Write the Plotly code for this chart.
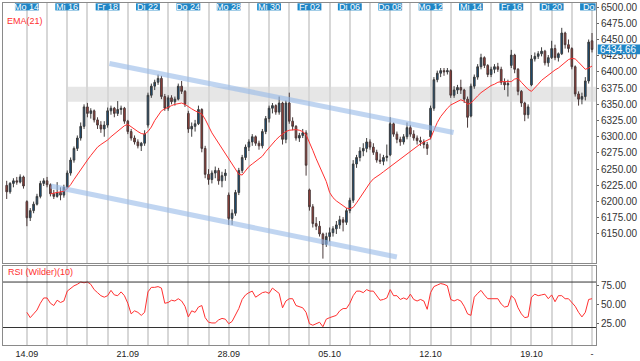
import plotly.graph_objects as go

# ---------------- data ----------------
BARS_PER_DAY = 6
FIRST_DAY = -1  # Fr 11.09 (day 0 = Mo 14.09)

opens = [
    6225, 6215, 6228, 6232, 6230, 6238,
    6200, 6175, 6186, 6196, 6208, 6228,
    6232, 6226, 6212, 6208, 6214, 6210,
    6222, 6244, 6264, 6282, 6298, 6316,
    6346, 6336, 6340, 6326, 6318, 6312,
    6318, 6340, 6344, 6336, 6342, 6344,
    6324, 6308, 6298, 6292, 6286, 6290,
    6318, 6364, 6378, 6384, 6390, 6362,
    6344, 6360, 6354, 6358, 6378, 6370,
    6336, 6312, 6316, 6320, 6342, 6282,
    6242, 6234, 6244, 6248, 6232, 6240,
    6210, 6174, 6182, 6214, 6248, 6268,
    6284, 6292, 6300, 6290, 6286, 6308,
    6328, 6344, 6348, 6338, 6352, 6296,
    6352, 6324, 6316, 6298, 6302, 6306,
    6218, 6192, 6166, 6162, 6150, 6134,
    6146, 6152, 6158, 6164, 6172, 6168,
    6186, 6202, 6258, 6268, 6278, 6282,
    6292, 6284, 6276, 6264, 6262, 6268,
    6272, 6320, 6304, 6296, 6292, 6300,
    6314, 6304, 6298, 6294, 6292, 6288,
    6300, 6344, 6388, 6398, 6402, 6400,
    6402, 6364, 6372, 6376, 6372, 6358,
    6332, 6378, 6392, 6408, 6422, 6410,
    6396, 6404, 6408, 6404, 6384, 6380,
    6410, 6426, 6404, 6370, 6352, 6334,
    6380, 6420, 6424, 6428, 6432, 6414,
    6422, 6436, 6422, 6428, 6460, 6442,
    6436, 6408, 6366, 6358, 6362, 6386,
    6448,
]
highs = [
    6232, 6230, 6236, 6238, 6242, 6240,
    6202, 6190, 6200, 6212, 6232, 6236,
    6238, 6228, 6218, 6230, 6222, 6226,
    6248, 6268, 6285, 6302, 6322, 6350,
    6352, 6344, 6342, 6330, 6324, 6324,
    6345, 6348, 6346, 6355, 6348, 6346,
    6326, 6312, 6302, 6296, 6292, 6310,
    6368, 6382, 6388, 6396, 6394, 6366,
    6364, 6364, 6362, 6382, 6386, 6372,
    6340, 6322, 6326, 6348, 6344, 6286,
    6250, 6248, 6254, 6252, 6246, 6250,
    6214, 6188, 6218, 6252, 6272, 6288,
    6296, 6304, 6302, 6294, 6312, 6332,
    6348, 6352, 6350, 6362, 6354, 6356,
    6368, 6330, 6318, 6306, 6312, 6310,
    6220, 6196, 6176, 6170, 6152, 6152,
    6160, 6162, 6170, 6178, 6176, 6190,
    6206, 6264, 6272, 6284, 6290, 6298,
    6296, 6290, 6280, 6274, 6272, 6288,
    6330, 6322, 6308, 6300, 6304, 6322,
    6318, 6310, 6302, 6300, 6296, 6292,
    6348, 6392, 6402, 6406, 6406, 6406,
    6404, 6378, 6380, 6388, 6374, 6362,
    6382, 6396, 6412, 6428, 6424, 6412,
    6408, 6412, 6414, 6408, 6390, 6388,
    6434, 6428, 6406, 6372, 6354, 6350,
    6426, 6430, 6432, 6438, 6434, 6426,
    6448, 6442, 6430, 6468, 6462, 6450,
    6438, 6410, 6370, 6368, 6392, 6450,
    6460,
]
lows = [
    6204, 6212, 6222, 6226, 6228, 6220,
    6162, 6170, 6182, 6194, 6205, 6224,
    6222, 6208, 6204, 6206, 6202, 6206,
    6220, 6240, 6260, 6278, 6294, 6312,
    6330, 6328, 6322, 6312, 6306, 6300,
    6314, 6334, 6330, 6332, 6334, 6320,
    6304, 6294, 6288, 6282, 6278, 6286,
    6314, 6360, 6372, 6380, 6358, 6340,
    6340, 6350, 6348, 6356, 6366, 6346,
    6306, 6300, 6308, 6318, 6276, 6236,
    6226, 6228, 6236, 6226, 6222, 6232,
    6164, 6164, 6178, 6210, 6244, 6264,
    6278, 6286, 6286, 6280, 6282, 6304,
    6322, 6336, 6334, 6334, 6288, 6290,
    6320, 6310, 6294, 6292, 6298, 6240,
    6186, 6160, 6156, 6146, 6112, 6130,
    6138, 6146, 6150, 6158, 6154, 6164,
    6182, 6198, 6252, 6262, 6270, 6276,
    6280, 6272, 6260, 6258, 6256, 6262,
    6270, 6300, 6290, 6286, 6288, 6296,
    6300, 6294, 6288, 6286, 6282, 6272,
    6296, 6340, 6384, 6392, 6394, 6396,
    6360, 6360, 6366, 6366, 6352, 6314,
    6330, 6374, 6388, 6404, 6406, 6392,
    6392, 6398, 6400, 6380, 6372, 6362,
    6406, 6398, 6364, 6346, 6324, 6328,
    6378, 6416, 6420, 6424, 6410, 6408,
    6420, 6418, 6416, 6426, 6436, 6430,
    6404, 6362, 6348, 6350, 6356, 6382,
    6430,
]
closes = [
    6215, 6228, 6232, 6230, 6238, 6224,
    6175, 6186, 6196, 6208, 6228, 6232,
    6226, 6212, 6208, 6214, 6210, 6222,
    6244, 6264, 6282, 6298, 6316, 6346,
    6336, 6340, 6326, 6318, 6312, 6318,
    6340, 6344, 6336, 6342, 6344, 6324,
    6308, 6298, 6292, 6286, 6290, 6304,
    6364, 6378, 6384, 6390, 6362, 6344,
    6360, 6354, 6358, 6378, 6370, 6350,
    6312, 6316, 6320, 6342, 6282, 6242,
    6234, 6244, 6248, 6232, 6240, 6244,
    6174, 6182, 6214, 6248, 6268, 6284,
    6292, 6300, 6290, 6286, 6308, 6328,
    6344, 6348, 6338, 6352, 6296, 6352,
    6324, 6316, 6298, 6302, 6306, 6256,
    6192, 6166, 6162, 6150, 6134, 6146,
    6152, 6158, 6164, 6172, 6168, 6186,
    6202, 6258, 6268, 6278, 6282, 6292,
    6284, 6276, 6264, 6262, 6268, 6270,
    6320, 6304, 6296, 6292, 6300, 6314,
    6304, 6298, 6294, 6292, 6288, 6282,
    6344, 6388, 6398, 6402, 6400, 6402,
    6364, 6372, 6376, 6372, 6358, 6330,
    6378, 6392, 6408, 6422, 6410, 6396,
    6404, 6408, 6404, 6384, 6380, 6382,
    6426, 6404, 6370, 6352, 6334, 6346,
    6420, 6424, 6428, 6432, 6414, 6422,
    6436, 6422, 6428, 6460, 6442, 6436,
    6408, 6366, 6358, 6362, 6386, 6446,
    6434.66,
]
ema21 = [
    None, None, None, None, None, None,
    None, None, None, None, None, None,
    None, 6212, 6213, 6214, 6215, 6216,
    6220, 6226, 6234, 6242, 6250, 6257,
    6264, 6271, 6278, 6284, 6288, 6291,
    6295, 6300, 6304, 6308, 6313, 6317,
    6319, 6315, 6311, 6308, 6305, 6304,
    6308, 6315, 6325, 6333, 6340, 6343,
    6346, 6348, 6350, 6351, 6352, 6350,
    6346, 6343, 6340, 6338, 6335, 6327,
    6316, 6306, 6298, 6290, 6283, 6275,
    6267, 6258, 6249, 6242, 6241, 6247,
    6254, 6258, 6262, 6266, 6270, 6277,
    6283, 6290, 6295, 6300, 6304, 6308,
    6310, 6311, 6311, 6310, 6308, 6303,
    6292, 6279, 6266, 6255, 6243, 6231,
    6214, 6206, 6201, 6197, 6193, 6190,
    6189, 6191, 6198, 6206, 6214, 6222,
    6229, 6235, 6238, 6242, 6246, 6250,
    6254, 6258, 6262, 6266, 6270, 6273,
    6277, 6281, 6285, 6289, 6292, 6294,
    6297, 6310, 6322, 6331, 6338, 6344,
    6349, 6352, 6355, 6357, 6355, 6350,
    6352, 6358, 6363, 6368, 6372, 6376,
    6379, 6381, 6384, 6385, 6385, 6385,
    6385, 6389, 6390, 6384, 6378, 6373,
    6370, 6375, 6381, 6387, 6391, 6396,
    6400, 6403, 6406, 6410, 6415, 6419,
    6421, 6420, 6415, 6409, 6404, 6406,
    6409,
]
rsi10 = [
    None, None, None, None, None, None,
    40, 33, 38, 43, 52, 59,
    59, 52, 49, 56, 53, 55,
    68, 72, 75, 77, 80, 79,
    80, 77, 70, 66, 62, 60,
    62, 69, 63, 62, 67, 62,
    52, 38, 42, 40, 36, 40,
    67, 73, 73, 74, 72, 52,
    53, 56, 55, 58, 55, 48,
    34, 42, 40, 47, 49, 33,
    27, 26, 26, 30, 32, 31,
    25, 28, 36, 45, 57, 63,
    66, 68, 60, 63, 66, 67,
    65, 72, 69, 65, 46, 55,
    58, 58, 49, 47, 46, 40,
    25, 23, 25, 27, 21, 31,
    33, 35, 36, 42, 45, 45,
    52, 62, 68, 68, 66, 70,
    68, 68, 62, 56, 57, 59,
    70, 62, 62, 57, 59, 57,
    64, 57, 55, 57, 55, 44,
    66, 74, 76, 78, 77, 75,
    57, 55, 57, 55, 48, 38,
    36, 60, 65, 69, 63, 58,
    58, 58, 58, 51, 47, 48,
    62, 58, 46, 38, 33, 34,
    60, 64, 62, 63, 64, 58,
    63, 54, 62, 62, 58, 58,
    53, 48, 40, 34, 40, 57,
    58,
]

top_label_days = [0, 2, 4, 6, 8, 10, 12, 14, 16, 18, 20, 22, 24, 26]
top_label_text = ["Mo 14", "Mi 16", "Fr 18", "Di 22", "Do 24", "Mo 28", "Mi 30",
                  "Fr 02", "Di 06", "Do 08", "Mo 12", "Mi 14", "Fr 16", "Di 20"]
last_label_day = 28
last_label_text = "Do"
date_tick_days = [0, 5, 10, 15, 20, 25, 28]
date_tick_text = ["14.09", "21.09", "28.09", "05.10", "12.10", "19.10", "-"]
price_ticks = [6150, 6175, 6200, 6225, 6250, 6275, 6300, 6325, 6350, 6375,
               6400, 6425, 6450, 6475, 6500]
rsi_ticks = [25, 50, 75]
rsi_levels = [80, 20]
last_price = 6434.66

# support band and trend channel (day index, price)
band_start_day = 2
band_low, band_high = 6354, 6377
channel_upper = [(4.09, 6413), (21.14, 6306.5)]
channel_lower = [(1.18, 6224), (18.33, 6114.5)]

# ---------------- figure ----------------
x = [FIRST_DAY + i / BARS_PER_DAY for i in range(len(closes))]

W, H = 640, 361
ML, MR, MT, MB = 2, 42, 2, 13
PH = H - MT - MB


def py(px):  # pixel row -> paper y
    return (H - MB - px) / PH


X_MIN, X_MAX = -1.183, 28.197
FONT = "Liberation Sans, Arial, sans-serif"
BLUE = "#1f86c6"
RED = "#ff3030"

fig = go.Figure()
fig.add_trace(go.Candlestick(
    x=x, open=opens, high=highs, low=lows, close=closes,
    increasing=dict(line=dict(color="#3c3c3c", width=1), fillcolor="#124f80"),
    decreasing=dict(line=dict(color="#4a3a3a", width=1), fillcolor="#a23f38"),
    whiskerwidth=0, showlegend=False, xaxis="x", yaxis="y",
))
fig.add_trace(go.Scatter(x=x, y=ema21, mode="lines", line=dict(color=RED, width=1),
                         showlegend=False, xaxis="x", yaxis="y", connectgaps=False))
fig.add_trace(go.Scatter(x=x, y=rsi10, mode="lines", line=dict(color=RED, width=1),
                         showlegend=False, xaxis="x2", yaxis="y2"))

shapes = []
shapes.append(dict(type="rect", xref="x", yref="y", x0=band_start_day, x1=X_MAX,
                   y0=band_low, y1=band_high, fillcolor="#e6e6e6", line=dict(width=0),
                   layer="below"))
for (a, b) in (channel_upper, channel_lower):
    shapes.append(dict(type="line", xref="x", yref="y", x0=a[0], y0=a[1], x1=b[0], y1=b[1],
                       line=dict(color="rgba(150,185,232,0.6)", width=5), layer="above"))
for lv in rsi_levels:
    shapes.append(dict(type="line", xref="x2 domain", yref="y2", x0=0, x1=1, y0=lv, y1=lv,
                       line=dict(color="#333333", width=1)))
half = 12 / 20.286
for d in top_label_days:
    shapes.append(dict(type="rect", xref="x", yref="paper", x0=d - half, x1=d + half,
                       y0=py(9.5), y1=py(2.3), fillcolor=BLUE, line=dict(width=0)))
shapes.append(dict(type="rect", xref="x", yref="paper", x0=last_label_day - half, x1=X_MAX - 0.02,
                   y0=py(9.5), y1=py(2.3), fillcolor=BLUE, line=dict(width=0)))
shapes.append(dict(type="rect", xref="paper", yref="y", x0=1.003, x1=1.075,
                   y0=last_price - 7.6, y1=last_price + 7.6, fillcolor=BLUE, line=dict(width=0)))

annotations = []
for d, t in zip(top_label_days, top_label_text):
    annotations.append(dict(x=d, xref="x", y=py(6.0), yref="paper", text=t, showarrow=False,
                            font=dict(family=FONT, size=9, color="white"), yanchor="middle"))
annotations.append(dict(x=last_label_day - half + 0.05, xref="x", y=py(6.0), yref="paper",
                        text=last_label_text, showarrow=False, xanchor="left", yanchor="middle",
                        font=dict(family=FONT, size=9, color="white")))
annotations.append(dict(x=1.004, xref="paper", y=last_price, yref="y", text=f"{last_price:.2f}",
                        showarrow=False, xanchor="left", yanchor="middle",
                        font=dict(family=FONT, size=10, color="white")))
annotations.append(dict(x=0.003, xref="paper", y=py(20.5), yref="paper", text="EMA(21)",
                        showarrow=False, xanchor="left", yanchor="middle",
                        font=dict(family=FONT, size=9, color=RED)))
annotations.append(dict(x=0.005, xref="paper", y=py(274.5), yref="paper", text="RSI (Wilder)(10)",
                        showarrow=False, xanchor="left", yanchor="middle",
                        font=dict(family=FONT, size=9, color=RED)))

grid = dict(showgrid=True, gridcolor="#d7d7d7", gridwidth=1.5, zeroline=False,
            range=[X_MIN, X_MAX], showline=True, linecolor="#8a8a8a", linewidth=1, mirror=True)

fig.update_layout(
    width=W, height=H, margin=dict(l=ML, r=MR, t=MT, b=MB),
    paper_bgcolor="white", plot_bgcolor="white", showlegend=False,
    font=dict(family=FONT, size=10, color="#333333"),
    xaxis=dict(domain=[0, 1], anchor="y", showticklabels=False, rangeslider=dict(visible=False),
               tickvals=list(range(0, 29)), ticks="", **grid),
    yaxis=dict(domain=[py(265), 1], anchor="x", side="right", range=[6105.3, 6506.3],
               tickvals=price_ticks, tickformat=".2f", ticks="outside", ticklen=2,
               tickcolor="#666666", showgrid=False, zeroline=False, showline=True,
               linecolor="#8a8a8a", mirror=True, tickfont=dict(size=10, color="#333333")),
    xaxis2=dict(domain=[0, 1], anchor="y2", matches="x", showticklabels=True,
                tickvals=list(range(0, 29)),
                ticktext=[date_tick_text[date_tick_days.index(d)] if d in date_tick_days else ""
                          for d in range(0, 29)],
                ticks="", ticklen=0,
                tickfont=dict(size=9, color="#222222"), **grid),
    yaxis2=dict(domain=[0, py(268)], anchor="x2", side="right",
                range=[20 - (H - MB - 330.3) / 0.7667, 80 + (284.3 - 268) / 0.7667],
                tickvals=rsi_ticks, tickformat=".2f", ticks="outside", ticklen=2,
                tickcolor="#666666", showgrid=False, zeroline=False, showline=True,
                linecolor="#8a8a8a", mirror=True, tickfont=dict(size=10, color="#333333")),
    shapes=shapes, annotations=annotations,
)

fig.write_html("out.html", config={"displayModeBar": False},
               post_script="document.body.style.margin='0';document.body.style.padding='0';")
